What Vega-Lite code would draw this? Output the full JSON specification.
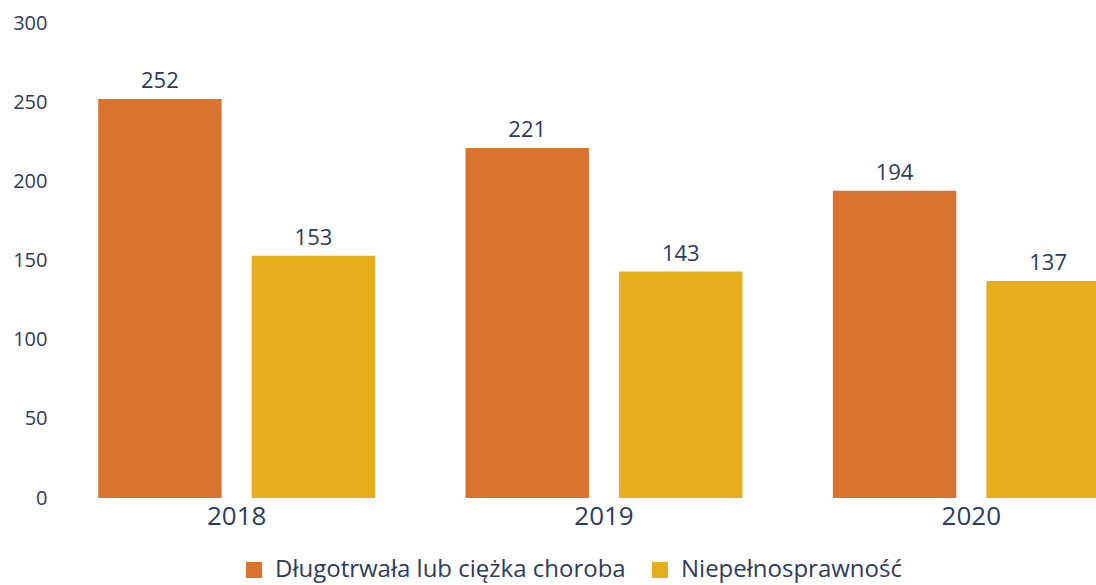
{
  "$schema": "https://vega.github.io/schema/vega-lite/v6.json",
  "width": 1102,
  "height": 475,
  "autosize": {"type": "none"},
  "padding": {"left": 53, "top": 23, "right": 0, "bottom": 87},
  "background": "white",
  "config": {
    "view": {"stroke": null},
    "font": "Open Sans",
    "axis": {"labelFont": "Open Sans", "labelColor": "#2E3B5E"},
    "legend": {"labelFont": "Open Sans", "labelColor": "#2E3B5E"}
  },
  "data": {
    "values": [
      {"year": "2018", "category": "Długotrwała lub ciężka choroba", "value": 252},
      {"year": "2018", "category": "Niepełnosprawność", "value": 153},
      {"year": "2019", "category": "Długotrwała lub ciężka choroba", "value": 221},
      {"year": "2019", "category": "Niepełnosprawność", "value": 143},
      {"year": "2020", "category": "Długotrwała lub ciężka choroba", "value": 194},
      {"year": "2020", "category": "Niepełnosprawność", "value": 137}
    ]
  },
  "encoding": {
    "x": {
      "field": "year", "type": "nominal", "title": null,
      "scale": {"paddingInner": 0.246, "paddingOuter": 0.123},
      "axis": {"labelAngle": 0, "labelFontSize": 26, "domain": false, "ticks": false, "labelPadding": 5}
    },
    "xOffset": {
      "field": "category", "type": "nominal",
      "sort": ["Długotrwała lub ciężka choroba", "Niepełnosprawność"],
      "scale": {"paddingInner": 0.196, "paddingOuter": 0}
    },
    "y": {
      "field": "value", "type": "quantitative", "title": null,
      "scale": {"domain": [0, 300]},
      "axis": {"values": [0, 50, 100, 150, 200, 250, 300], "labelFontSize": 20, "domain": false, "ticks": false, "grid": false, "labelPadding": 6}
    }
  },
  "layer": [
    {
      "mark": {"type": "bar"},
      "encoding": {
        "color": {
          "field": "category", "type": "nominal", "title": null,
          "sort": ["Długotrwała lub ciężka choroba", "Niepełnosprawność"],
          "scale": {"domain": ["Długotrwała lub ciężka choroba", "Niepełnosprawność"], "range": ["#D9732E", "#E8AF1C"]},
          "legend": {
            "orient": "none", "direction": "horizontal", "legendX": 189, "legendY": 535,
            "symbolType": "square", "symbolSize": 256, "symbolStrokeWidth": 0, "labelFontSize": 24, "labelLimit": 0, "columnPadding": 22, "labelOffset": 9
          }
        }
      }
    },
    {
      "mark": {"type": "text", "baseline": "alphabetic", "dy": -11, "fontSize": 22, "color": "#2E3B5E", "font": "Open Sans"},
      "encoding": {"text": {"field": "value", "type": "quantitative"}}
    }
  ]
}
